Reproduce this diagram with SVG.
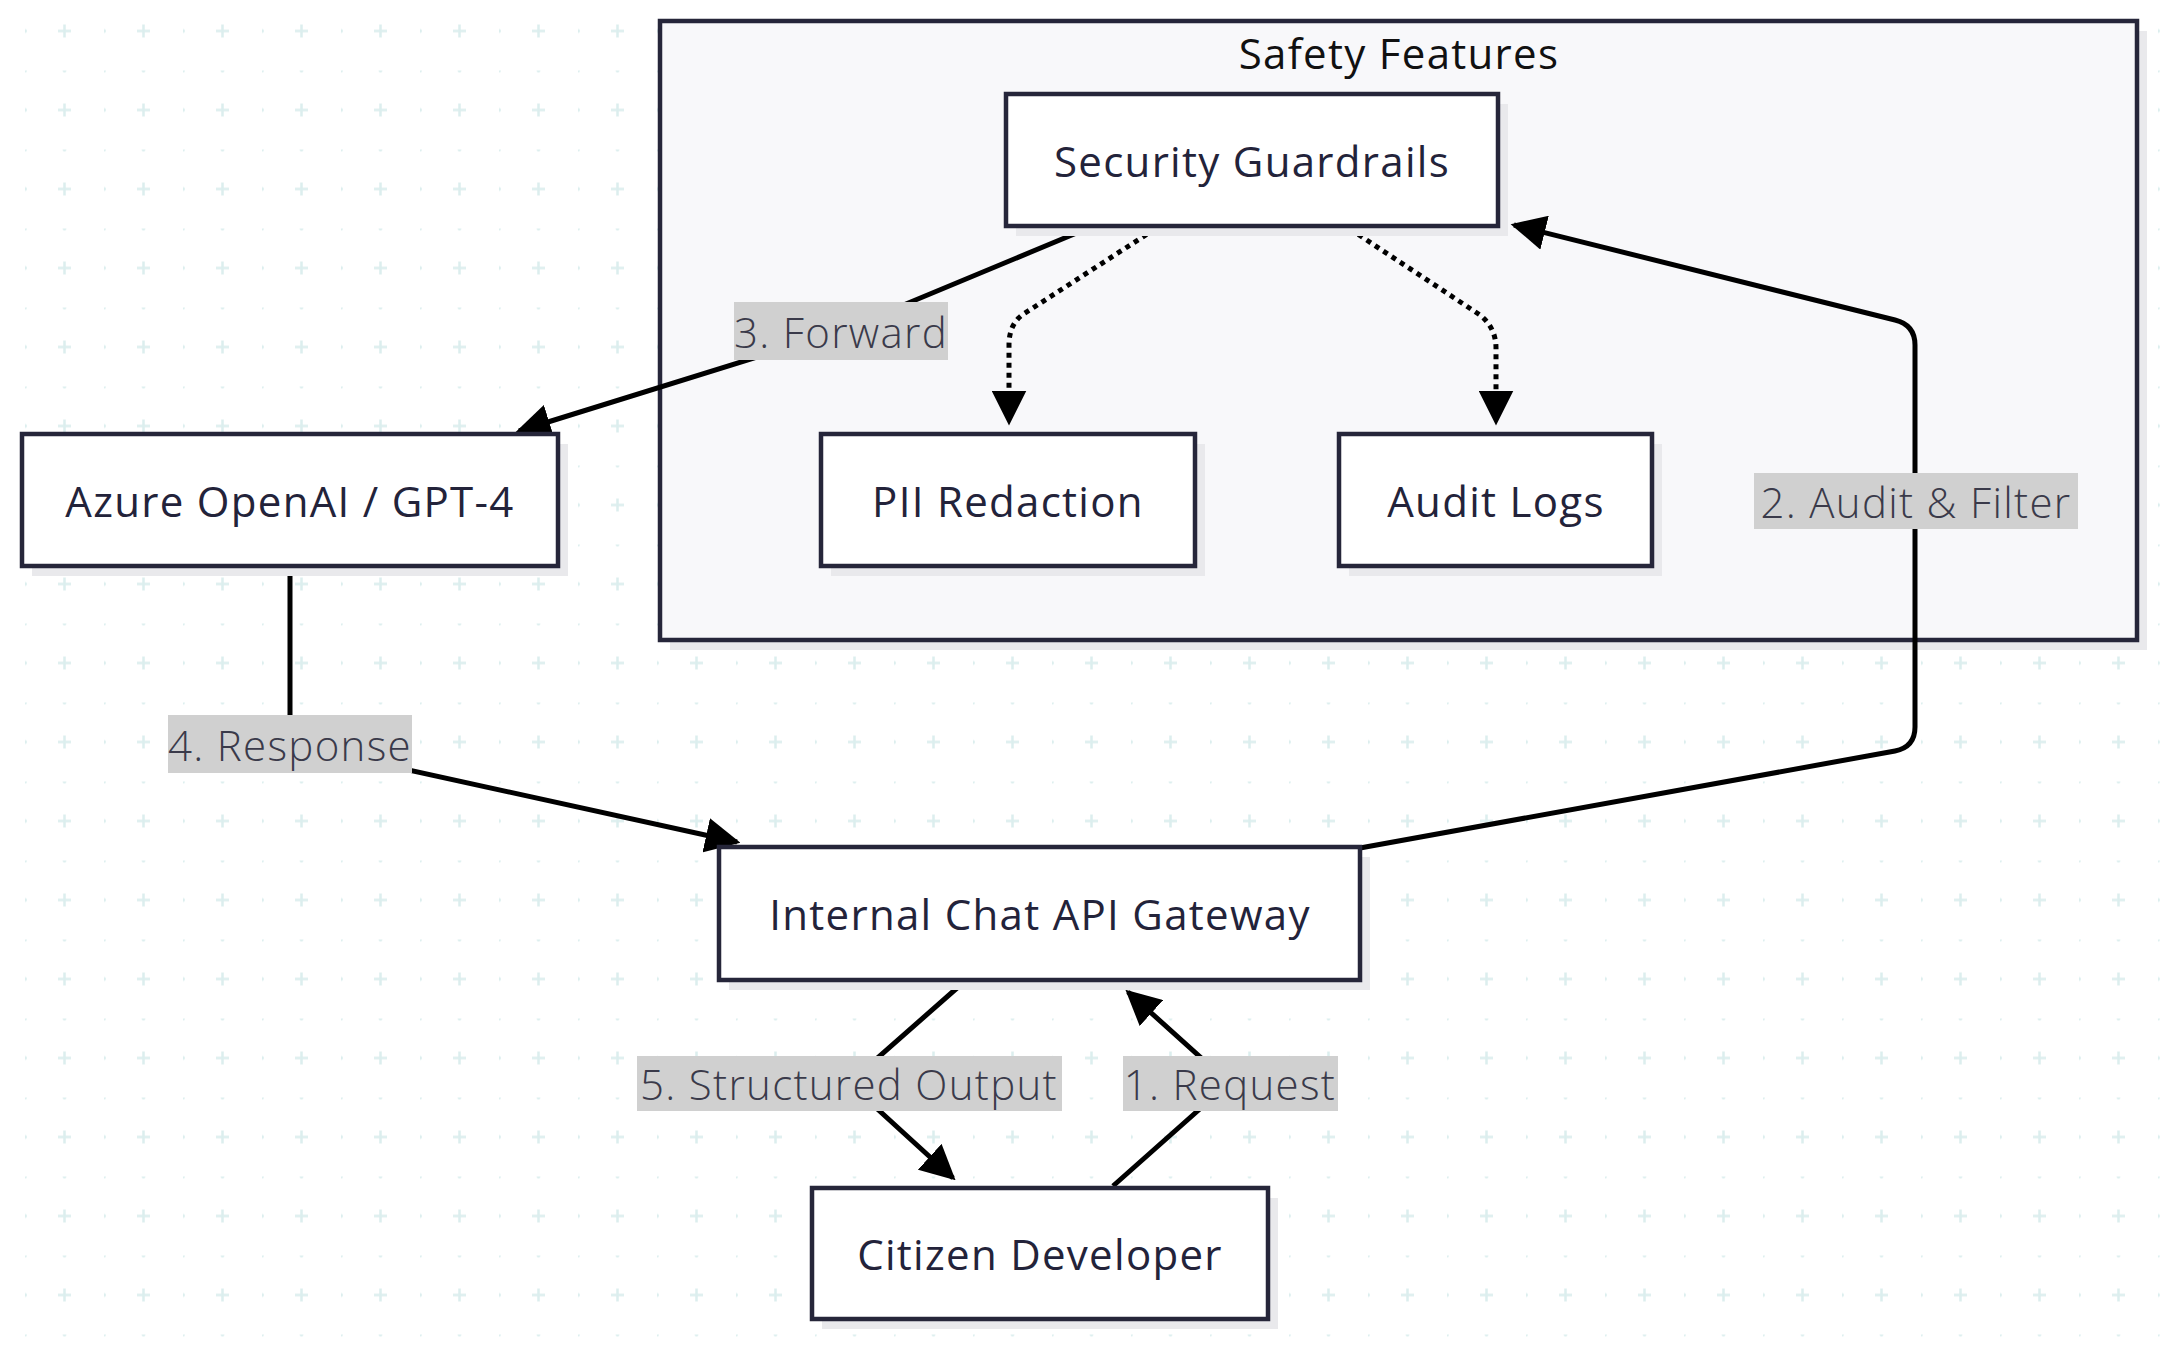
<svg xmlns="http://www.w3.org/2000/svg" width="2161" height="1348" viewBox="0 0 2161 1348">
<style>
.node{fill:#fff;stroke:#26263a;stroke-width:4.5}
.sh{fill:#e9e9ec}
.nt{font-family:"Open Sans","Liberation Sans",sans-serif;font-size:42px;letter-spacing:1.3px;fill:#23233a;text-anchor:middle;dominant-baseline:central}
.e{fill:none;stroke:#000;stroke-width:5}
.d{stroke-dasharray:5 5}
.lb{fill:#d0d0d0}
.lt{font-family:"Open Sans","Liberation Sans",sans-serif;font-size:42px;letter-spacing:1.3px;font-weight:300;fill:#3a3a4a;text-anchor:middle;dominant-baseline:central}
</style>
<defs>
<pattern id="grid" x="25" y="-8.5" width="79" height="79" patternUnits="userSpaceOnUse">
<circle cx="0" cy="0" r="2" fill="#dceeee"/><circle cx="39.5" cy="0" r="2" fill="#dceeee"/><circle cx="0" cy="39.5" r="2" fill="#dceeee"/>
<path d="M33,39.5h13M39.5,33v13" stroke="#dceeee" stroke-width="2.5"/>
</pattern>
<marker id="ah" viewBox="0 0 10 10" refX="9" refY="5" markerWidth="7" markerHeight="7" markerUnits="strokeWidth" orient="auto"><path d="M0,0L10,5L0,10z" fill="#000"/></marker>
</defs>
<rect width="2161" height="1348" fill="#fff"/>
<rect width="2161" height="1348" fill="url(#grid)"/>
<g id="cluster-safety">
<rect x="670" y="31" width="1477" height="619" class="sh"/>
<rect x="660" y="21" width="1477" height="619" fill="#f8f8fa" stroke="#26263a" stroke-width="4.5"/>
<text x="1399" y="52" class="nt" style="fill:#111">Safety Features</text>
</g>
<g id="connectors">
<path class="e" d="M1113,1186L1229,1083L1128,992" marker-end="url(#ah)"/>
<path class="e" d="M1360,848L1895,751Q1915,747 1915,727V345Q1915,325 1895,320L1514,225" marker-end="url(#ah)"/>
<path class="e" d="M1091,227L841,331L519,431" marker-end="url(#ah)"/>
<path class="e" d="M290,566V744L737,842" marker-end="url(#ah)"/>
<path class="e" d="M965,981L849,1083L953,1178" marker-end="url(#ah)"/>
<path class="e d" d="M1155,229L1022,315Q1009,325 1009,345V422" marker-end="url(#ah)"/>
<path class="e d" d="M1350,229L1480,315Q1496,328 1496,348V422" marker-end="url(#ah)"/>
<g>
<rect x="1123" y="1056" width="215" height="55" class="lb"/><text x="1230" y="1083" class="lt">1. Request</text>
<rect x="1754" y="473" width="324" height="56" class="lb"/><text x="1916" y="501" class="lt">2. Audit &amp; Filter</text>
<rect x="734" y="302" width="214" height="58" class="lb"/><text x="841" y="331" class="lt">3. Forward</text>
<rect x="168" y="715" width="244" height="58" class="lb"/><text x="290" y="744" class="lt">4. Response</text>
<rect x="637" y="1056" width="425" height="55" class="lb"/><text x="849" y="1083" class="lt">5. Structured Output</text>
</g>
</g>
<g id="node-guardrails"><rect x="1016" y="104" width="492" height="132" class="sh"/><rect x="1006" y="94" width="492" height="132" class="node"/><text x="1252" y="160" class="nt">Security Guardrails</text></g>
<g id="node-azure"><rect x="32" y="444" width="536" height="132" class="sh"/><rect x="22" y="434" width="536" height="132" class="node"/><text x="290" y="500" class="nt">Azure OpenAI / GPT-4</text></g>
<g id="node-pii"><rect x="831" y="444" width="374" height="132" class="sh"/><rect x="821" y="434" width="374" height="132" class="node"/><text x="1008" y="500" class="nt">PII Redaction</text></g>
<g id="node-audit"><rect x="1349" y="444" width="313" height="132" class="sh"/><rect x="1339" y="434" width="313" height="132" class="node"/><text x="1496" y="500" class="nt">Audit Logs</text></g>
<g id="node-gateway"><rect x="729" y="857" width="641" height="133" class="sh"/><rect x="719" y="847" width="641" height="133" class="node"/><text x="1040" y="913" class="nt">Internal Chat API Gateway</text></g>
<g id="node-citizen"><rect x="822" y="1198" width="456" height="131" class="sh"/><rect x="812" y="1188" width="456" height="131" class="node"/><text x="1040" y="1253" class="nt">Citizen Developer</text></g>
</svg>
